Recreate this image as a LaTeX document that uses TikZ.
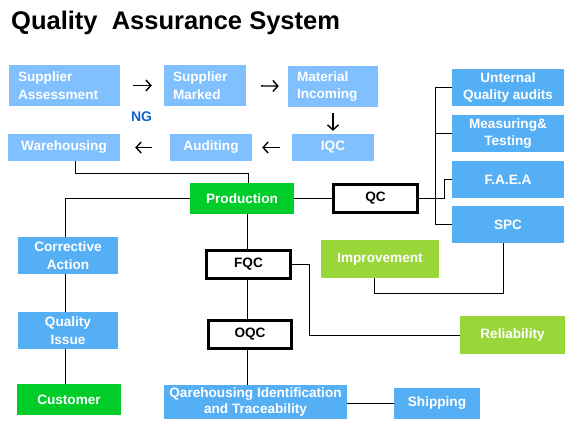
\documentclass[tikz,border=0pt]{standalone}
\usepackage{fontspec}
\setmainfont{Liberation Sans}
\usetikzlibrary{arrows.meta}
\definecolor{qalight}{HTML}{80C0FF}
\definecolor{qablue}{HTML}{55AFF5}
\definecolor{qagreen}{HTML}{00CC2A}
\definecolor{qalime}{HTML}{99D63A}
\definecolor{qang}{HTML}{1166CC}
\tikzset{
  qtext/.style={font=\bfseries\fontsize{13.6}{17.5}\selectfont, text=white, inner sep=0pt, align=center},
  lightbox/.style={qtext, fill=qalight},
  bluebox/.style={qtext, fill=qablue},
  greenbox/.style={qtext, fill=qagreen},
  limebox/.style={qtext, fill=qalime},
  checkbox/.style={qtext, text=black, fill=white, draw=black, line width=3pt},
  link/.style={draw=black, line width=0.8pt},
  flow/.style={line width=1.4pt, -{Straight Barb[length=5pt,width=11pt]}}
}
\newcommand{\qabox}[6]{ \node[#1, minimum width=#2pt, minimum height=#3pt] (#4) at ( #5 ) {#6};}

\begin{document}
\begin{tikzpicture}[x=1pt,y=-1pt]
\useasboundingbox (0,0) rectangle (587,441);
\node[anchor=base west, inner sep=0pt, font=\bfseries\fontsize{25.5}{30}\selectfont] (title) at (11,30) {Quality\ \ Assurance System};
% row 1 of boxes
\node[lightbox, align=left, text width=93pt, minimum width=111pt, minimum height=41pt] (sass) at (64.5,85.5) {Supplier\\Assessment};
\node[lightbox, align=left, text width=64pt, minimum width=82pt, minimum height=41pt] (smark) at (205,85.5) {Supplier\\Marked};
\node[lightbox, align=left, text width=72pt, minimum width=90pt, minimum height=41pt] (minc) at (333,86.5) {Material\\Incoming};
% row 2 of boxes
\qabox{lightbox}{112}{27}{wareh}{64,147.5}{Warehousing}
\qabox{lightbox}{82}{27}{audit}{211,147.5}{Auditing}
\qabox{lightbox}{82}{27}{iqc}{333,147.5}{IQC}
\node[font=\bfseries\fontsize{14}{16}\selectfont, text=qang, inner sep=0pt] (ng) at (141.5,117) {NG};
% middle column
\qabox{greenbox}{104}{31}{prod}{242,198.5}{Production}
\qabox{checkbox}{84}{28}{qc}{375.5,198.5}{QC}
\qabox{checkbox}{84}{28}{fqc}{248.5,264.5}{FQC}
\qabox{checkbox}{83}{28}{oqc}{250,334.5}{OQC}
\qabox{bluebox, font=\bfseries\fontsize{13.6}{16}\selectfont}{183}{34}{qware}{255.5,402}{Qarehousing Identification\\and Traceability}
\qabox{bluebox}{86}{31}{ship}{437,403.5}{Shipping}
% left column
\qabox{bluebox}{100}{37}{corr}{68,255.5}{Corrective\\Action}
\qabox{bluebox}{100}{37}{qiss}{68,330.5}{Quality\\Issue}
\qabox{greenbox}{104}{31}{cust}{69,399.5}{Customer}
% right column
\qabox{bluebox}{112}{37}{uqa}{508,87.5}{Unternal\\Quality audits}
\qabox{bluebox}{112}{37}{meas}{508,133.5}{Measuring\&\\Testing}
\qabox{bluebox}{112}{37}{faea}{508,179.5}{F.A.E.A}
\qabox{bluebox}{112}{37}{spc}{508,224.5}{SPC}
\qabox{limebox}{118}{38}{impr}{380,259}{Improvement}
\qabox{limebox}{105}{38}{rel}{512.5,335}{Reliability}
% arrows of the supply loop
\draw[flow, shorten <=13pt, shorten >=12pt] (sass) -- (smark);
\draw[flow, shorten <=15pt, shorten >=9pt] (smark) -- (minc);
\draw[flow, shorten <=6pt, shorten >=3pt] (minc) -- (iqc);
\draw[flow, shorten <=12pt, shorten >=10pt] (iqc) -- (audit);
\draw[flow, shorten <=18pt, shorten >=15pt] (audit) -- (wareh);
% links
\draw[link] ([xshift=11pt]wareh.south) -- ++(0,12) -| ([xshift=6pt]prod.north);
\draw[link] (prod.west) -| ([xshift=-3pt]corr.north);
\draw[link] ([xshift=-3pt]corr.south) -- ([xshift=-3pt]corr.south |- qiss.north);
\draw[link] ([xshift=-3pt]qiss.south) -- ([xshift=-3pt]qiss.south |- cust.north);
\draw[link] ([xshift=-1.5pt]fqc.north) -- ([xshift=-1.5pt]fqc.north |- prod.south);
\draw[link] ([xshift=-1.5pt]fqc.south) -- ([xshift=-1.5pt]fqc.south |- oqc.north);
\draw[link] ([xshift=-3pt]oqc.south) -- ([xshift=-3pt]oqc.south |- qware.north);
\draw[link] (ship.west) -- (ship.west -| qware.east);
\draw[link] (prod.east) -- (qc.west);
\coordinate (trunk) at ([xshift=16pt]qc.east);
\draw[link] (qc.east) -- ++(25,0) |- (faea.west);
\draw[link] (uqa.west) -| (trunk |- spc.west) -- (spc.west);
\draw[link] (meas.west) -- (meas.west -| trunk);
\draw[link] ([xshift=-6pt]impr.south) -- ++(0,15) -| ([xshift=-5pt]spc.south);
\draw[link] (fqc.east) -- ++(17,0) |- (rel.west);
\end{tikzpicture}
\end{document}
